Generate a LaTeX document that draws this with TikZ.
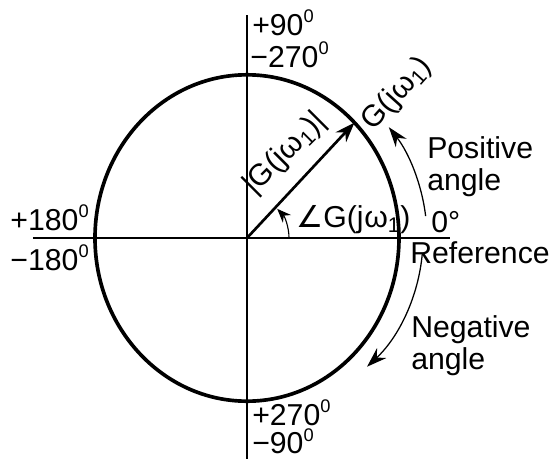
\documentclass[tikz,border=0pt]{standalone}
\usepackage{fontspec}
\setmainfont{Liberation Sans}
\newfontfamily\symfont{DejaVu Sans}
\usetikzlibrary{arrows.meta}
\newcommand{\dg}{\raisebox{0.8ex}{\fontsize{13}{13}\selectfont 0}}
\newcommand{\Gjw}{G(j\kern.5pt ω\textsubscript{1})}

\begin{document}
\begin{tikzpicture}[
  lbl/.style={inner sep=0pt,font=\fontsize{21.5}{25}\selectfont},
  axis/.style={line width=1.1pt},
  unit/.style={line width=2.6pt},
  vec/.style={line width=1.9pt,-{Stealth[length=5mm,width=3.6mm]}},
  turn/.style={line width=0.9pt,-{Stealth[length=5mm,width=3.4mm]}}
]
\useasboundingbox (-6.175,-5.525) rectangle (7.55,5.95);
% axes
\coordinate (O) at (0,0);
\coordinate (xl) at (-5.35,0);
\coordinate (xr) at (5.075,0);
\coordinate (yt) at (0,5.575);
\coordinate (yb) at (0,-5.525);
\draw[axis] (xl) -- (xr);
\draw[axis] (yt) -- (yb);
% unit circle
\draw[unit] (O) ellipse [x radius=3.8, y radius=4.08];
% phasor
\coordinate (P) at (45:3.8 and 4.08);
\draw[vec] (O) -- (P);
\node[lbl,rotate=45] (mag) at (0.95,2.1) {|\Gjw|};
\node[lbl,rotate=48] (pt) at (3.75,3.6) {\Gjw};
% angle
\coordinate (a0) at (0:1.05);
\draw[turn,line width=0.8pt,-{Stealth[length=3.5mm,width=2.8mm]}] (a0) arc[start angle=0,end angle=44,radius=1.05];
\node[lbl,anchor=west] (ang) at (1.225,0.45) {{\symfont ∠}\Gjw};
% sense of rotation
\coordinate (pa) at (7:4.5);
\draw[turn] (pa) arc[start angle=7,end angle=38,radius=4.5];
\coordinate (na) at (-5:4.4);
\draw[turn] (na) arc[start angle=-5,end angle=-47,radius=4.4];
\node[lbl,anchor=west] (pos) at (4.5,2.25) {Positive};
\node[lbl,anchor=west] (posa) at (4.5,1.375) {angle};
\node[lbl,anchor=west] (zero) at (4.6,0.4) {0°};
\node[lbl,anchor=west] (ref) at (4.075,-0.375) {Reference};
\node[lbl,anchor=west] (neg) at (4.1,-2.3) {Negative};
\node[lbl,anchor=west] (nega) at (4.1,-3.1) {angle};
% axis labels
\node[lbl,anchor=west] (p90) at (0.125,5.375) {+90\dg};
\node[lbl,anchor=west] (m270) at (0.08,4.575) {−270\dg};
\node[lbl,anchor=east] (p180) at (-3.95,0.5) {+180\dg};
\node[lbl,anchor=east] (m180) at (-3.95,-0.5) {−180\dg};
\node[lbl,anchor=west] (p270) at (0.125,-4.375) {+270\dg};
\node[lbl,anchor=west] (m90) at (0.125,-5.08) {−90\dg};
\end{tikzpicture}
\end{document}
